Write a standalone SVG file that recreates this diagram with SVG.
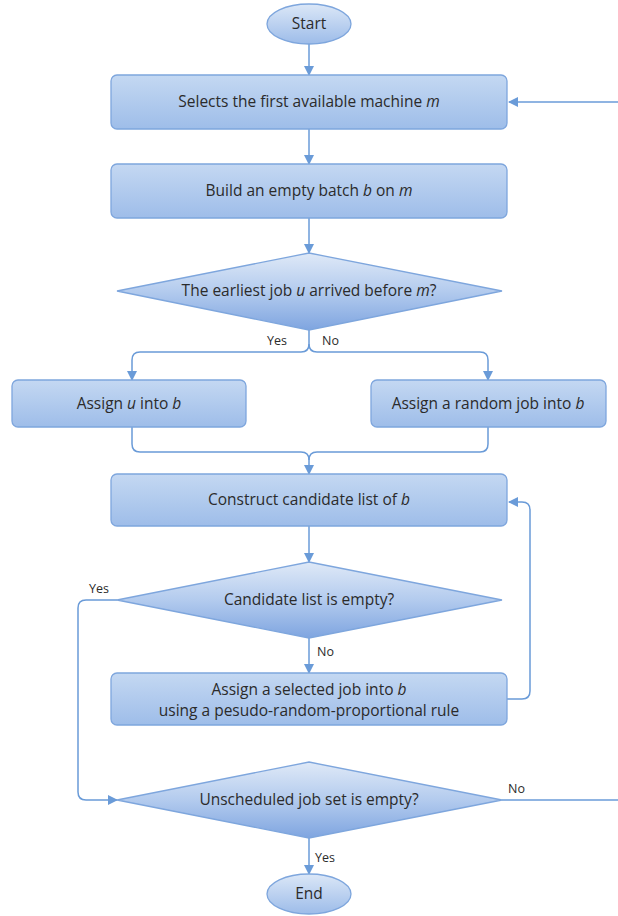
<svg xmlns="http://www.w3.org/2000/svg" width="618" height="916" viewBox="0 0 618 916">
<defs>
<linearGradient id="gBox" x1="0" y1="0" x2="0" y2="1">
<stop offset="0" stop-color="#c4d8f2"/>
<stop offset="1" stop-color="#9ebde9"/>
</linearGradient>
<linearGradient id="gDia" x1="0" y1="0" x2="0" y2="1">
<stop offset="0" stop-color="#dfe9f7"/>
<stop offset="0.5" stop-color="#b3cbee"/>
<stop offset="1" stop-color="#7fa5e0"/>
</linearGradient>
<linearGradient id="gEll" x1="0" y1="0" x2="0" y2="1">
<stop offset="0" stop-color="#dbe7f7"/>
<stop offset="1" stop-color="#9dbce9"/>
</linearGradient>
<marker id="arr" viewBox="0 0 10 10" refX="9" refY="5" markerWidth="10" markerHeight="10" markerUnits="userSpaceOnUse" orient="auto">
<path d="M0,0 L10,5 L0,10 z" fill="#6a9bd8"/>
</marker>
</defs>
<style>
.box{fill:url(#gBox);stroke:#7ea6dd;stroke-width:1.3}
.dia{fill:url(#gDia);stroke:#7ea6dd;stroke-width:1.3}
.ell{fill:url(#gEll);stroke:#7ea6dd;stroke-width:1.3}
.t{font-family:"Open Sans","Noto Sans","DejaVu Sans",sans-serif;font-size:15.5px;fill:#2b2b2b;text-anchor:middle}
.i{font-style:italic}
.lb{font-family:"Open Sans","Noto Sans","DejaVu Sans",sans-serif;font-size:12.5px;fill:#2b2b2b}
.c{fill:none;stroke:#6a9bd8;stroke-width:1.5}
.ca{fill:none;stroke:#6a9bd8;stroke-width:1.5;marker-end:url(#arr)}
</style>
<rect width="618" height="916" fill="#ffffff"/>

<g id="connectors">
<path class="ca" d="M309,44 V75"/>
<path class="ca" d="M309,129 V164"/>
<path class="ca" d="M309,218 V253"/>
<path class="ca" d="M309,330 V344 Q309,352 301,352 H140 Q132,352 132,360 V380"/>
<path class="ca" d="M309,344 Q309,352 317,352 H480 Q488,352 488,360 V380"/>
<path class="c" d="M132,427 V444 Q132,452 140,452 H301 Q309,452 309,460"/>
<path class="c" d="M488,427 V444 Q488,452 480,452 H317 Q309,452 309,460"/>
<path class="ca" d="M309,460 V474"/>
<path class="ca" d="M309,526 V562"/>
<path class="ca" d="M309,638 V673"/>
<path class="ca" d="M507,699 H522 Q530,699 530,691 V510 Q530,502 522,502 H509"/>
<path class="ca" d="M117,600 H86 Q78,600 78,608 V792 Q78,800 86,800 H117"/>
<path class="c" d="M502,800 H618"/>
<path class="ca" d="M618,102 H509"/>
<path class="ca" d="M309,838 V874"/>
<text class="lb" x="267" y="345">Yes</text>
<text class="lb" x="322" y="345">No</text>
<text class="lb" x="89" y="593">Yes</text>
<text class="lb" x="317" y="656">No</text>
<text class="lb" x="508" y="793">No</text>
<text class="lb" x="315" y="862">Yes</text>
</g>

<g id="start">
<ellipse class="ell" cx="309" cy="24" rx="42" ry="20"/>
<text class="t" x="309" y="29">Start</text>
</g>
<g id="select-machine">
<rect class="box" x="111" y="75" width="396" height="54" rx="6"/>
<text class="t" x="309" y="107">Selects the first available machine <tspan class="i">m</tspan></text>
</g>
<g id="build-batch">
<rect class="box" x="111" y="164" width="396" height="54" rx="6"/>
<text class="t" x="309" y="196">Build an empty batch <tspan class="i">b</tspan> on <tspan class="i">m</tspan></text>
</g>
<g id="earliest-job">
<polygon class="dia" points="309,253 502,291 309,330 117,291"/>
<text class="t" x="309" y="296">The earliest job <tspan class="i">u</tspan> arrived before <tspan class="i">m</tspan>?</text>
</g>
<g id="assign-u">
<rect class="box" x="12" y="380" width="234" height="47" rx="6"/>
<text class="t" x="129" y="409">Assign <tspan class="i">u</tspan> into <tspan class="i">b</tspan></text>
</g>
<g id="assign-random">
<rect class="box" x="371" y="380" width="235" height="47" rx="6"/>
<text class="t" x="488" y="409">Assign a random job into <tspan class="i">b</tspan></text>
</g>
<g id="construct-list">
<rect class="box" x="111" y="474" width="396" height="52" rx="6"/>
<text class="t" x="309" y="505">Construct candidate list of <tspan class="i">b</tspan></text>
</g>
<g id="list-empty">
<polygon class="dia" points="309,562 502,600 309,638 117,600"/>
<text class="t" x="309" y="605">Candidate list is empty?</text>
</g>
<g id="assign-selected">
<rect class="box" x="111" y="673" width="396" height="52" rx="6"/>
<text class="t" x="309" y="695">Assign a selected job into <tspan class="i">b</tspan></text>
<text class="t" x="309" y="716">using a pesudo-random-proportional rule</text>
</g>
<g id="unscheduled-empty">
<polygon class="dia" points="309,762 502,800 309,838 117,800"/>
<text class="t" x="309" y="805">Unscheduled job set is empty?</text>
</g>
<g id="end">
<ellipse class="ell" cx="309" cy="894" rx="42" ry="20"/>
<text class="t" x="309" y="899">End</text>
</g>
</svg>
